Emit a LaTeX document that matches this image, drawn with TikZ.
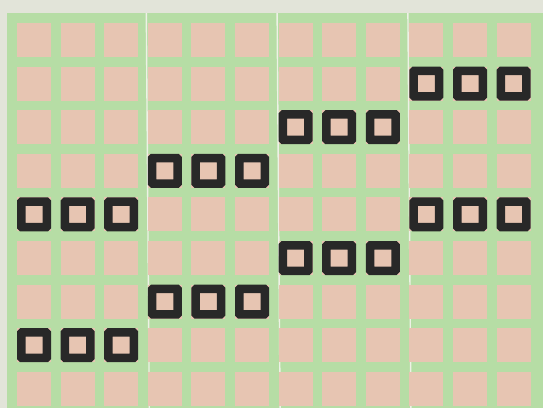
\documentclass[tikz,border=0pt]{standalone}
\usepackage{xcolor}
\usepackage{tikz}
\definecolor{PaperBg}{RGB}{226,228,217}
\definecolor{GridGreen}{RGB}{182,221,165}
\definecolor{CellPink}{RGB}{231,197,178}
\definecolor{InkBlack}{RGB}{40,40,40}
\definecolor{SeamWhite}{RGB}{238,241,230}

\begin{document}
\begin{tikzpicture}[
  x=1pt, y=-1pt,
  cell/.style={fill=CellPink, minimum size=34pt, inner sep=0pt, outer sep=0pt},
  marked/.style={draw=InkBlack, line width=8.5pt, rounded corners=0.6pt,
                 minimum size=25.5pt, inner sep=0pt, outer sep=0pt},
  seam/.style={draw=SeamWhite, line width=1.4pt},
]
  \useasboundingbox (0,0) rectangle (543,408);
  \fill[PaperBg] (0,0) rectangle (543,408);
  \fill[GridGreen] (7,13) rectangle (543,408);

  % seams between blocks of three columns
  \foreach \c/\k in {3/a, 6/b, 9/c} {
    \coordinate (seamtop-\k) at ({15.5+43.6*\c},13);
    \coordinate (seambot-\k) at ({18.5+43.6*\c},408);
    \draw[seam] (seamtop-\k) -- (seambot-\k);
  }

  % pink cells
  \foreach \r in {0,...,8}
    \foreach \c in {0,...,11}
      \node[cell] (cell-\r-\c) at ({34+43.6*\c},{40+43.6*\r}) {};

  % outlined cells, three in a row
  \foreach \r/\s in {1/9, 2/6, 3/3, 4/0, 4/9, 5/6, 6/3, 7/0}
    \foreach \d in {0,1,2} {
      \pgfmathtruncatemacro{\c}{\s+\d}
      \node[marked] (mark-\r-\c) at (cell-\r-\c) {};
    }
\end{tikzpicture}
\end{document}
